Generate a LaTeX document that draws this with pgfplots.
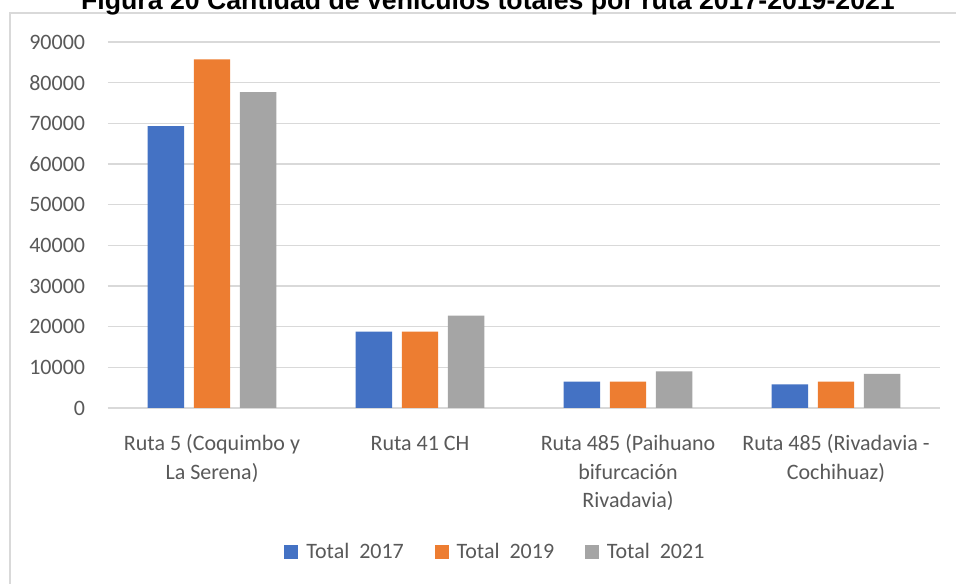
\documentclass[border=0pt]{standalone}
\usepackage{fontspec}
\setmainfont{Carlito}
\newfontfamily\titlefont{Liberation Sans}
\usepackage{pgfplots}
\pgfplotsset{compat=1.18}
\definecolor{cblue}{HTML}{4472C4}
\definecolor{corange}{HTML}{ED7D31}
\definecolor{cgray}{HTML}{A5A5A5}
\definecolor{gridc}{HTML}{D9D9D9}
\definecolor{txt}{HTML}{595959}
\begin{document}
\begin{tikzpicture}
\path[use as bounding box] (0,0) rectangle (717pt,438pt);
\fill[white] (0,0) rectangle (717pt,438pt);
\draw[gridc, line width=1pt] (7.5pt,-5pt) -- (7.5pt,428.25pt) -- (730pt,428.25pt);
\node[anchor=base, inner sep=0pt] at (366pt,431pt) {\titlefont\fontsize{20}{24}\selectfont\bfseries Figura 20 Cantidad de vehículos totales por ruta 2017-2019-2021};
\begin{axis}[
  at={(81pt,132pt)}, anchor=south west,
  scale only axis, width=624pt, height=274.5pt,
  ybar, bar width=0.175,
  xmin=-0.5, xmax=3.5, ymin=0, ymax=90000,
  axis line style={draw=none},
  xtick style={draw=none}, ytick style={draw=none},
  ymajorgrids, grid style={gridc, line width=1pt},
  ytick={0,10000,...,90000},
  xtick={0,1,2,3},
  xticklabels={{\strut Ruta 5 (Coquimbo y\\La Serena)},{\strut Ruta 41 CH},{\strut Ruta 485 (Paihuano\\bifurcación\\Rivadavia)},{\strut Ruta 485 (Rivadavia -\\Cochihuaz)}},
  major tick length=0pt,
  scaled y ticks=false,
  /pgf/number format/assume math mode=true,
  yticklabel={\pgfmathprintnumber[fixed,1000 sep={}]{\tick}},
  yticklabel style={font=\fontsize{16.5}{19.8}\selectfont, text=txt, anchor=east, inner sep=0pt, xshift=-17pt},
  xticklabel style={font=\fontsize{16.5}{21.4}\selectfont, text=txt, align=center, anchor=north, inner sep=0pt, yshift=-17pt},
  legend style={at={(0.466,-0.393)}, anchor=center, draw=none, fill=none, font=\fontsize{16.5}{19.8}\selectfont, text=txt, inner sep=0pt,
     /tikz/every even column/.append style={column sep=21pt},
     /tikz/every odd column/.append style={column sep=4pt}},
  legend columns=3,
  legend image code/.code={\fill[#1] (0pt,-5.25pt) rectangle (10.5pt,5.25pt);},
  clip=false,
]
\draw[gridc, line width=1pt] (axis cs:-0.5,0) -- (axis cs:3.5,0);
\addplot[fill=cblue, draw=none, bar shift=-0.222] coordinates {(0,69300) (1,18800) (2,6500) (3,5800)};
\addplot[fill=corange, draw=none, bar shift=0] coordinates {(0,85700) (1,18800) (2,6500) (3,6500)};
\addplot[fill=cgray, draw=none, bar shift=0.222] coordinates {(0,77700) (1,22700) (2,9000) (3,8400)};
\legend{Total\ \ 2017, Total\ \ 2019, Total\ \ 2021}
\end{axis}
\end{tikzpicture}
\end{document}
